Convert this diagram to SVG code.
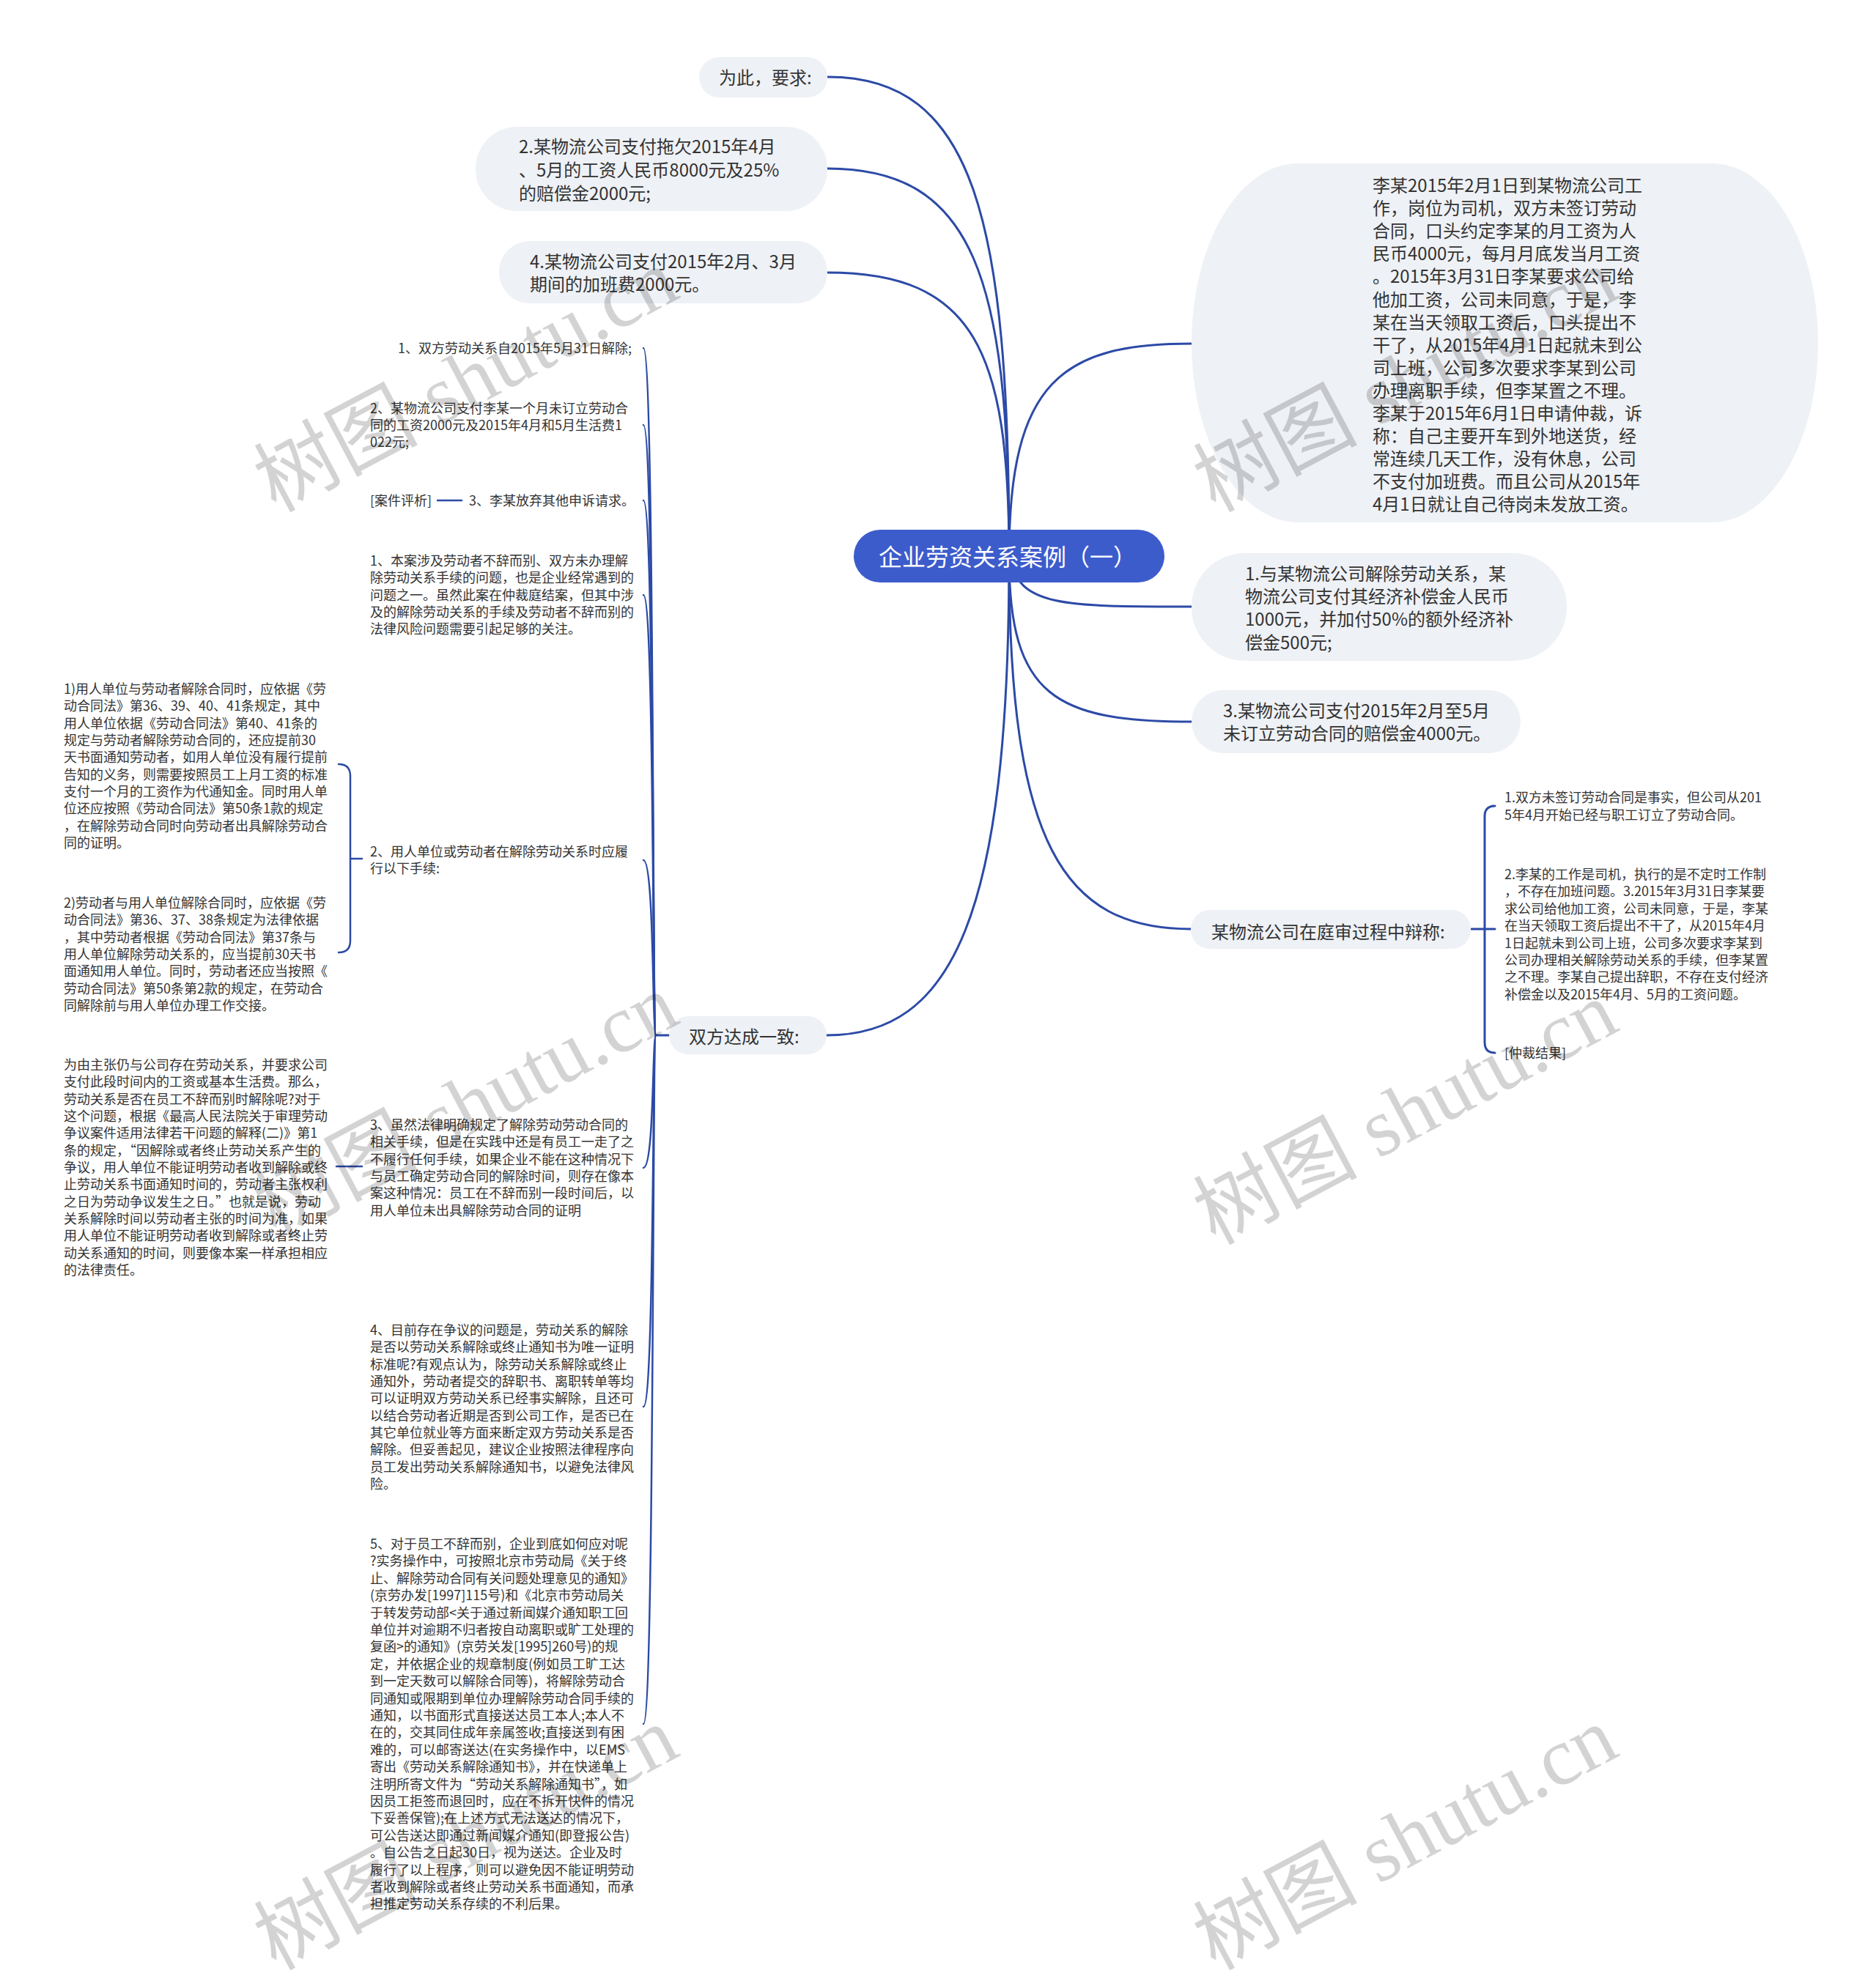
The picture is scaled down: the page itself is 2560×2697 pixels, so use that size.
<svg xmlns="http://www.w3.org/2000/svg" width="2560" height="2697" viewBox="0 0 2560 2697">
<style>
.pill{fill:#eef1f5}
.root{fill:#3d5ccc}
.t24{font-family:"Noto Sans CJK SC","Liberation Sans",sans-serif;font-size:24px;fill:#333}
.t18{font-family:"Noto Sans CJK SC","Liberation Sans",sans-serif;font-size:18px;fill:#333}
.tr{font-family:"Noto Sans CJK SC","Liberation Sans",sans-serif;font-size:32px;fill:#fff}
.c{fill:none;stroke:#2c4aa6;stroke-width:3;stroke-linecap:round}
.c2{fill:none;stroke:#2c4aa6;stroke-width:2.5;stroke-linecap:round}
.wm{font-family:"Liberation Serif","Noto Sans CJK SC",serif;font-size:112px;fill:#000;opacity:0.17}
</style>
<rect width="2560" height="2697" fill="#fff"/>
<g id="connectors">
<path class="c" d="M1377 760 C1377 300 1330 105 1130 105"/>
<path class="c" d="M1377 760 C1377 380 1330 230 1129 230"/>
<path class="c" d="M1377 760 C1377 480 1330 372 1129 372"/>
<path class="c" d="M1377 760 C1377 520 1450 469 1626 469"/>
<path class="c" d="M1377 760 C1390 828 1450 828 1626 828"/>
<path class="c" d="M1377 760 C1377 950 1440 985 1626 985"/>
<path class="c" d="M1377 760 C1377 1150 1450 1268 1625 1268"/>
<path class="c" d="M1377 760 C1377 1250 1300 1413 1128 1413"/>
<path class="c" d="M2008 1268 L2040 1268 M2040 1100 Q2026 1100 2026 1114 L2026 1423 Q2026 1437 2040 1437"/>
<path class="c" d="M913 1413 L895 1413"/>
<path class="c2" d="M878 475 C893 475 890 1413 895 1413"/>
<path class="c2" d="M878 580 C893 580 890 1413 895 1413"/>
<path class="c2" d="M878 683 C893 683 890 1413 895 1413"/>
<path class="c2" d="M878 812 C893 812 890 1413 895 1413"/>
<path class="c2" d="M878 1174 C893 1174 890 1413 895 1413"/>
<path class="c2" d="M878 1594 C893 1594 890 1413 895 1413"/>
<path class="c2" d="M878 1920 C893 1920 890 1413 895 1413"/>
<path class="c2" d="M878 2353 C893 2353 890 1413 895 1413"/>
<path class="c2" d="M597 683 L630 683"/>
<path class="c2" d="M494 1172 L478 1172 M462 1043 Q478 1043 478 1059 L478 1284 Q478 1300 462 1300"/>
<path class="c2" d="M459 1592 L494 1592"/>
</g>
<g id="root">
<rect class="root" x="1165" y="723" width="424" height="72" rx="36"/>
<text class="tr" x="1199" y="772">企业劳资关系案例（一）</text>
</g>
<g id="n-weici">
<rect class="pill" x="954" y="78" width="175" height="55" rx="27.5"/>
<text class="t24" x="981" y="115">为此，要求:</text>
</g>
<g id="n-req2">
<rect class="pill" x="649" y="173" width="480" height="115" rx="57"/>
<text class="t24"><tspan x="708" y="209">2.某物流公司支付拖欠2015年4月</tspan><tspan x="708" y="241">、5月的工资人民币8000元及25%</tspan><tspan x="708" y="273">的赔偿金2000元;</tspan></text>
</g>
<g id="n-req4">
<rect class="pill" x="681" y="329" width="448" height="85" rx="42"/>
<text class="t24"><tspan x="723" y="366">4.某物流公司支付2015年2月、3月</tspan><tspan x="723" y="397">期间的加班费2000元。</tspan></text>
</g>
<g id="n-facts">
<rect class="pill" x="1626" y="223" width="855" height="490" rx="145" ry="245"/>
<text class="t24"><tspan x="1873" y="262">李某2015年2月1日到某物流公司工</tspan><tspan x="1873" y="293">作，岗位为司机，双方未签订劳动</tspan><tspan x="1873" y="324">合同，口头约定李某的月工资为人</tspan><tspan x="1873" y="355">民币4000元，每月月底发当月工资</tspan><tspan x="1873" y="386">。2015年3月31日李某要求公司给</tspan><tspan x="1873" y="418">他加工资，公司未同意，于是，李</tspan><tspan x="1873" y="449">某在当天领取工资后，口头提出不</tspan><tspan x="1873" y="480">干了，从2015年4月1日起就未到公</tspan><tspan x="1873" y="511">司上班，公司多次要求李某到公司</tspan><tspan x="1873" y="542">办理离职手续，但李某置之不理。</tspan><tspan x="1873" y="573">李某于2015年6月1日申请仲裁，诉</tspan><tspan x="1873" y="604">称：自己主要开车到外地送货，经</tspan><tspan x="1873" y="635">常连续几天工作，没有休息，公司</tspan><tspan x="1873" y="666">不支付加班费。而且公司从2015年</tspan><tspan x="1873" y="697">4月1日就让自己待岗未发放工资。</tspan></text>
</g>
<g id="n-req1">
<rect class="pill" x="1626" y="755" width="512" height="147" rx="73"/>
<text class="t24"><tspan x="1699" y="792">1.与某物流公司解除劳动关系，某</tspan><tspan x="1699" y="823">物流公司支付其经济补偿金人民币</tspan><tspan x="1699" y="854">1000元，并加付50%的额外经济补</tspan><tspan x="1699" y="886">偿金500元;</tspan></text>
</g>
<g id="n-req3">
<rect class="pill" x="1626" y="942" width="449" height="86" rx="43"/>
<text class="t24"><tspan x="1669" y="979">3.某物流公司支付2015年2月至5月</tspan><tspan x="1669" y="1010">未订立劳动合同的赔偿金4000元。</tspan></text>
</g>
<g id="n-defense">
<rect class="pill" x="1625" y="1242" width="382" height="53" rx="26"/>
<text class="t24" x="1653" y="1281">某物流公司在庭审过程中辩称:</text>
</g>
<g id="n-def1">
<text class="t18"><tspan x="2053" y="1095">1.双方未签订劳动合同是事实，但公司从201</tspan><tspan x="2053" y="1119">5年4月开始已经与职工订立了劳动合同。</tspan></text>
</g>
<g id="n-def2">
<text class="t18"><tspan x="2053" y="1200">2.李某的工作是司机，执行的是不定时工作制</tspan><tspan x="2053" y="1223">，不存在加班问题。3.2015年3月31日李某要</tspan><tspan x="2053" y="1247">求公司给他加工资，公司未同意，于是，李某</tspan><tspan x="2053" y="1270">在当天领取工资后提出不干了，从2015年4月</tspan><tspan x="2053" y="1294">1日起就未到公司上班，公司多次要求李某到</tspan><tspan x="2053" y="1317">公司办理相关解除劳动关系的手续，但李某置</tspan><tspan x="2053" y="1340">之不理。李某自己提出辞职，不存在支付经济</tspan><tspan x="2053" y="1364">补偿金以及2015年4月、5月的工资问题。</tspan></text>
</g>
<g id="n-def3">
<text class="t18" x="2053" y="1444">[仲裁结果]</text>
</g>
<g id="n-agree">
<rect class="pill" x="913" y="1387" width="215" height="52" rx="26"/>
<text class="t24" x="940" y="1424">双方达成一致:</text>
</g>
<g id="n-a1">
<text class="t18" x="543" y="482">1、双方劳动关系自2015年5月31日解除;</text>
</g>
<g id="n-a2">
<text class="t18"><tspan x="505" y="564">2、某物流公司支付李某一个月未订立劳动合</tspan><tspan x="505" y="587">同的工资2000元及2015年4月和5月生活费1</tspan><tspan x="505" y="610">022元;</tspan></text>
</g>
<g id="n-a3">
<text class="t18" x="640" y="690">3、李某放弃其他申诉请求。</text>
</g>
<g id="n-a3-1">
<text class="t18" x="505" y="690">[案件评析]</text>
</g>
<g id="n-b1">
<text class="t18"><tspan x="505" y="772">1、本案涉及劳动者不辞而别、双方未办理解</tspan><tspan x="505" y="795">除劳动关系手续的问题，也是企业经常遇到的</tspan><tspan x="505" y="819">问题之一。虽然此案在仲裁庭结案，但其中涉</tspan><tspan x="505" y="842">及的解除劳动关系的手续及劳动者不辞而别的</tspan><tspan x="505" y="865">法律风险问题需要引起足够的关注。</tspan></text>
</g>
<g id="n-b2">
<text class="t18"><tspan x="505" y="1169">2、用人单位或劳动者在解除劳动关系时应履</tspan><tspan x="505" y="1192">行以下手续:</tspan></text>
</g>
<g id="n-b2-1">
<text class="t18"><tspan x="87" y="947">1)用人单位与劳动者解除合同时，应依据《劳</tspan><tspan x="87" y="970">动合同法》第36、39、40、41条规定，其中</tspan><tspan x="87" y="994">用人单位依据《劳动合同法》第40、41条的</tspan><tspan x="87" y="1017">规定与劳动者解除劳动合同的，还应提前30</tspan><tspan x="87" y="1040">天书面通知劳动者，如用人单位没有履行提前</tspan><tspan x="87" y="1064">告知的义务，则需要按照员工上月工资的标准</tspan><tspan x="87" y="1087">支付一个月的工资作为代通知金。同时用人单</tspan><tspan x="87" y="1110">位还应按照《劳动合同法》第50条1款的规定</tspan><tspan x="87" y="1134">，在解除劳动合同时向劳动者出具解除劳动合</tspan><tspan x="87" y="1157">同的证明。</tspan></text>
</g>
<g id="n-b2-2">
<text class="t18"><tspan x="87" y="1239">2)劳动者与用人单位解除合同时，应依据《劳</tspan><tspan x="87" y="1262">动合同法》第36、37、38条规定为法律依据</tspan><tspan x="87" y="1286">，其中劳动者根据《劳动合同法》第37条与</tspan><tspan x="87" y="1309">用人单位解除劳动关系的，应当提前30天书</tspan><tspan x="87" y="1332">面通知用人单位。同时，劳动者还应当按照《</tspan><tspan x="87" y="1356">劳动合同法》第50条第2款的规定，在劳动合</tspan><tspan x="87" y="1379">同解除前与用人单位办理工作交接。</tspan></text>
</g>
<g id="n-b3">
<text class="t18"><tspan x="505" y="1542">3、虽然法律明确规定了解除劳动劳动合同的</tspan><tspan x="505" y="1565">相关手续，但是在实践中还是有员工一走了之</tspan><tspan x="505" y="1589">不履行任何手续，如果企业不能在这种情况下</tspan><tspan x="505" y="1612">与员工确定劳动合同的解除时间，则存在像本</tspan><tspan x="505" y="1635">案这种情况：员工在不辞而别一段时间后，以</tspan><tspan x="505" y="1659">用人单位未出具解除劳动合同的证明</tspan></text>
</g>
<g id="n-b3-1">
<text class="t18"><tspan x="87" y="1460">为由主张仍与公司存在劳动关系，并要求公司</tspan><tspan x="87" y="1483">支付此段时间内的工资或基本生活费。那么，</tspan><tspan x="87" y="1507">劳动关系是否在员工不辞而别时解除呢?对于</tspan><tspan x="87" y="1530">这个问题，根据《最高人民法院关于审理劳动</tspan><tspan x="87" y="1553">争议案件适用法律若干问题的解释(二)》第1</tspan><tspan x="87" y="1577">条的规定，“因解除或者终止劳动关系产生的</tspan><tspan x="87" y="1600">争议，用人单位不能证明劳动者收到解除或终</tspan><tspan x="87" y="1623">止劳动关系书面通知时间的，劳动者主张权利</tspan><tspan x="87" y="1647">之日为劳动争议发生之日。”也就是说，劳动</tspan><tspan x="87" y="1670">关系解除时间以劳动者主张的时间为准，如果</tspan><tspan x="87" y="1693">用人单位不能证明劳动者收到解除或者终止劳</tspan><tspan x="87" y="1717">动关系通知的时间，则要像本案一样承担相应</tspan><tspan x="87" y="1740">的法律责任。</tspan></text>
</g>
<g id="n-b4">
<text class="t18"><tspan x="505" y="1822">4、目前存在争议的问题是，劳动关系的解除</tspan><tspan x="505" y="1845">是否以劳动关系解除或终止通知书为唯一证明</tspan><tspan x="505" y="1869">标准呢?有观点认为，除劳动关系解除或终止</tspan><tspan x="505" y="1892">通知外，劳动者提交的辞职书、离职转单等均</tspan><tspan x="505" y="1915">可以证明双方劳动关系已经事实解除，且还可</tspan><tspan x="505" y="1939">以结合劳动者近期是否到公司工作，是否已在</tspan><tspan x="505" y="1962">其它单位就业等方面来断定双方劳动关系是否</tspan><tspan x="505" y="1985">解除。但妥善起见，建议企业按照法律程序向</tspan><tspan x="505" y="2009">员工发出劳动关系解除通知书，以避免法律风</tspan><tspan x="505" y="2032">险。</tspan></text>
</g>
<g id="n-b5">
<text class="t18"><tspan x="505" y="2114">5、对于员工不辞而别，企业到底如何应对呢</tspan><tspan x="505" y="2137">?实务操作中，可按照北京市劳动局《关于终</tspan><tspan x="505" y="2161">止、解除劳动合同有关问题处理意见的通知》</tspan><tspan x="505" y="2184">(京劳办发[1997]115号)和《北京市劳动局关</tspan><tspan x="505" y="2208">于转发劳动部&lt;关于通过新闻媒介通知职工回</tspan><tspan x="505" y="2231">单位并对逾期不归者按自动离职或旷工处理的</tspan><tspan x="505" y="2254">复函&gt;的通知》(京劳关发[1995]260号)的规</tspan><tspan x="505" y="2278">定，并依据企业的规章制度(例如员工旷工达</tspan><tspan x="505" y="2301">到一定天数可以解除合同等)，将解除劳动合</tspan><tspan x="505" y="2325">同通知或限期到单位办理解除劳动合同手续的</tspan><tspan x="505" y="2348">通知，以书面形式直接送达员工本人;本人不</tspan><tspan x="505" y="2371">在的，交其同住成年亲属签收;直接送到有困</tspan><tspan x="505" y="2395">难的，可以邮寄送达(在实务操作中，以EMS</tspan><tspan x="505" y="2418">寄出《劳动关系解除通知书》，并在快递单上</tspan><tspan x="505" y="2442">注明所寄文件为“劳动关系解除通知书”，如</tspan><tspan x="505" y="2465">因员工拒签而退回时，应在不拆开快件的情况</tspan><tspan x="505" y="2488">下妥善保管);在上述方式无法送达的情况下，</tspan><tspan x="505" y="2512">可公告送达即通过新闻媒介通知(即登报公告)</tspan><tspan x="505" y="2535">。自公告之日起30日，视为送达。企业及时</tspan><tspan x="505" y="2559">履行了以上程序，则可以避免因不能证明劳动</tspan><tspan x="505" y="2582">者收到解除或者终止劳动关系书面通知，而承</tspan><tspan x="505" y="2605">担推定劳动关系存续的不利后果。</tspan></text>
</g>
<g id="watermarks">
<text class="wm" transform="translate(376,700) rotate(-28)">树图 shutu.cn</text>
<text class="wm" transform="translate(1658,700) rotate(-28)">树图 shutu.cn</text>
<text class="wm" transform="translate(376,1690) rotate(-28)">树图 shutu.cn</text>
<text class="wm" transform="translate(1658,1700) rotate(-28)">树图 shutu.cn</text>
<text class="wm" transform="translate(376,2690) rotate(-28)">树图 shutu.cn</text>
<text class="wm" transform="translate(1658,2690) rotate(-28)">树图 shutu.cn</text>
</g>
</svg>
